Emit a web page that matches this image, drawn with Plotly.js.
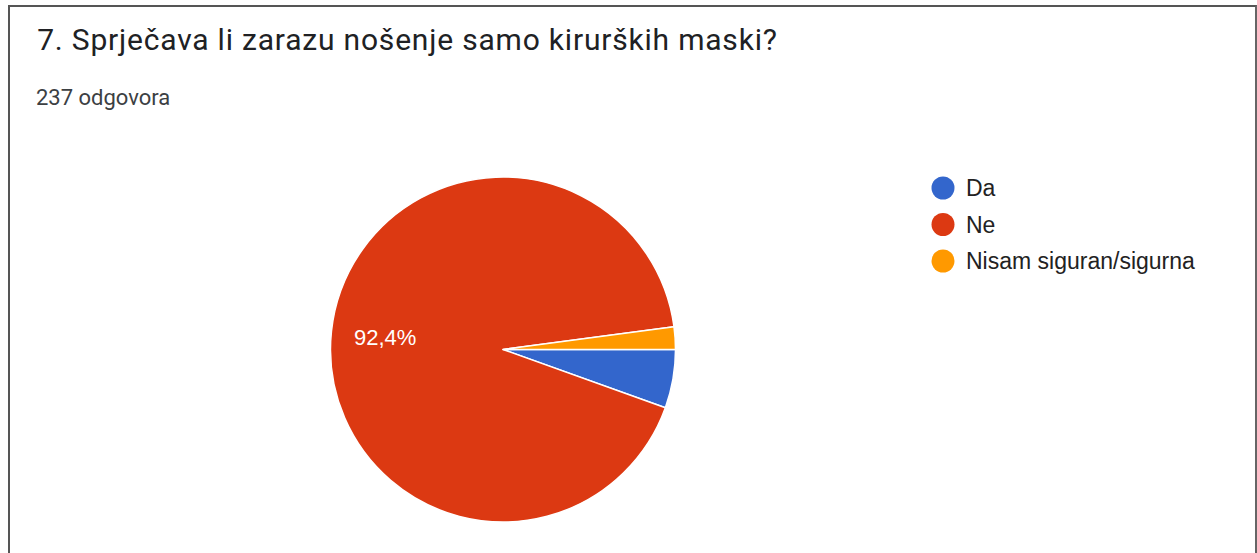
<!DOCTYPE html>
<html>
<head>
<meta charset="utf-8">
<script src="https://cdn.plot.ly/plotly-3.0.1.min.js"></script>
<style>
  html, body { margin: 0; padding: 0; background: #fff; }
  #frame { position: absolute; left: 8px; top: 5px; width: 1245px; height: 560px;
           border-left: 2px solid #555; border-top: 2px solid #555; border-right: 2px solid #666; }
  #chart { position: absolute; left: 0; top: 0; width: 1257px; height: 553px; }
  #chart g.annotation[data-index="0"] text { letter-spacing: 0.8px; }
</style>
</head>
<body>
<div id="chart"></div>
<div id="frame"></div>
<script>
const titleText = "7. Sprječava li zarazu nošenje samo kirurških maski?";
const subtitleText = "237 odgovora";
const categories = ["Da", "Ne", "Nisam siguran/sigurna"];
const counts = [13, 219, 5];
const colors = ["#3366cc", "#dc3912", "#ff9900"];

const total = counts.reduce((a, b) => a + b, 0);
const W = 1257, H = 553;
const titleFont = "Roboto, Arial, sans-serif";
const chartFont = "Arial, 'Liberation Sans', sans-serif";

// pie placement (pixels)
const pieLeft = 330, pieRight = 676, pieTop = 177, pieBottom = 522;
const cx = (pieLeft + pieRight) / 2, cy = (pieTop + pieBottom) / 2;
const R = (pieRight - pieLeft) / 2;

const traces = [{
  type: 'pie',
  labels: categories,
  values: counts,
  textinfo: 'none',
  marker: { colors: colors, line: { color: '#ffffff', width: 1.5 } },
  sort: false,
  direction: 'clockwise',
  rotation: 90,
  showlegend: false,
  hoverinfo: 'label+percent',
  domain: { x: [pieLeft / W, pieRight / W], y: [1 - pieBottom / H, 1 - pieTop / H] }
}];

// title letter-spacing grows the text around its centre, so shift by half of it
const titleShift = titleText.length * 0.8 / 2;
const annotations = [
  { text: titleText, xref: 'paper', yref: 'paper', x: (35 + titleShift) / W, y: 1 - 20 / H,
    xanchor: 'left', yanchor: 'top', showarrow: false,
    font: { family: titleFont, size: 30, color: '#202124' } },
  { text: subtitleText, xref: 'paper', yref: 'paper', x: 34 / W, y: 1 - 83 / H,
    xanchor: 'left', yanchor: 'top', showarrow: false,
    font: { family: titleFont, size: 22, color: '#3c4043' } }
];

// slice percentage labels (only slices large enough, like Google Charts)
let cum = 0;
counts.forEach((v, i) => {
  const frac = v / total;
  const mid = cum + frac / 2;
  cum += frac;
  if (frac < 0.1) return;
  const ang = mid * 2 * Math.PI; // clockwise from 3 o'clock
  const px = cx + 0.686 * R * Math.cos(ang);
  const py = cy + 0.686 * R * Math.sin(ang);
  annotations.push({
    text: (frac * 100).toFixed(1).replace('.', ',') + '%',
    xref: 'paper', yref: 'paper', x: px / W, y: 1 - (py + 1) / H,
    xanchor: 'center', yanchor: 'middle', showarrow: false,
    font: { family: chartFont, size: 22, color: '#ffffff' }
  });
});

// legend (circles + labels), Google Charts style
const shapes = [];
const legX = 943, legY0 = 188, legStep = 36.5, legD = 23;
categories.forEach((c, i) => {
  const y = legY0 + i * legStep;
  shapes.push({
    type: 'circle', xref: 'paper', yref: 'paper',
    x0: (legX - legD / 2) / W, x1: (legX + legD / 2) / W,
    y0: 1 - (y + legD / 2) / H, y1: 1 - (y - legD / 2) / H,
    fillcolor: colors[i], line: { width: 0 }
  });
  annotations.push({
    text: c, xref: 'paper', yref: 'paper', x: (legX + 21) / W, y: 1 - y / H,
    xanchor: 'left', yanchor: 'middle', showarrow: false,
    font: { family: chartFont, size: 23, color: '#222222' }
  });
});

const layout = {
  width: W, height: H,
  margin: { l: 0, r: 0, t: 0, b: 0 },
  paper_bgcolor: '#ffffff', plot_bgcolor: '#ffffff',
  showlegend: false,
  annotations: annotations,
  shapes: shapes
};

Plotly.newPlot('chart', traces, layout, { displayModeBar: false, staticPlot: true });
</script>
</body>
</html>
